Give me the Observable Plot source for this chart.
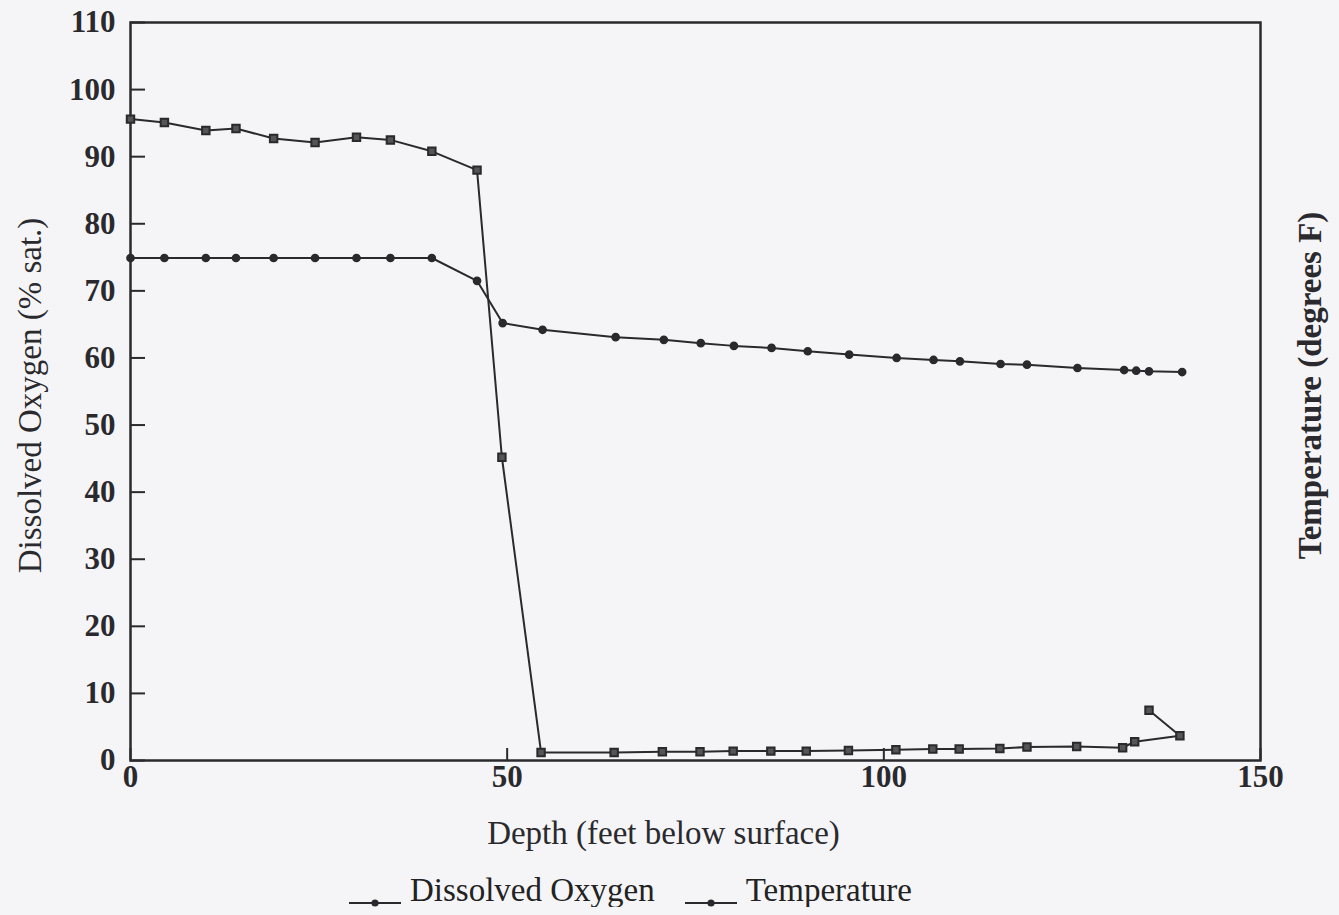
<!DOCTYPE html>
<html>
<head>
<meta charset="utf-8">
<script src="https://cdn.jsdelivr.net/npm/d3@7"></script>
<script src="https://cdn.jsdelivr.net/npm/@observablehq/plot@0.6"></script>
<style>
  html, body { margin: 0; padding: 0; background: #f5f5f7; }
  #chart svg { display: block; background: transparent; }
  #legend { display: flex; justify-content: center; align-items: flex-end; gap: 28px;
    font-family: "Liberation Serif", "DejaVu Serif", serif; font-size: 33px; color: #222;
    margin-top: 14px; padding-right: 80px; line-height: 1; }
  #legend .item { display: flex; align-items: flex-end; gap: 7px; }
  #legend svg { display: block; }
</style>
</head>
<body>
<div id="chart"></div>
<div id="legend"></div>
<script>
// Dissolved oxygen (% saturation) vs depth (feet)
const depthDO = [0, 4.5, 10, 14, 19, 24.5, 30, 34.5, 40, 46, 49.3, 54.5, 64.2, 70.6, 75.6, 80, 85, 89.7, 95.3, 101.6, 106.5, 110, 115.4, 119, 125.6, 131.7, 133.3, 139.3, 135.2];
const oxygen  = [95.6, 95.1, 93.9, 94.2, 92.7, 92.1, 92.9, 92.5, 90.8, 88.0, 45.2, 1.2, 1.2, 1.3, 1.3, 1.4, 1.4, 1.4, 1.5, 1.6, 1.7, 1.7, 1.8, 2.0, 2.1, 1.9, 2.8, 3.7, 7.5];

// Temperature (degrees F) vs depth (feet)
const depthT = [0, 4.5, 10, 14, 19, 24.5, 30, 34.5, 40, 46, 49.4, 54.7, 64.4, 70.8, 75.7, 80.1, 85.1, 89.9, 95.4, 101.7, 106.6, 110.1, 115.5, 119, 125.7, 131.9, 133.5, 135.2, 139.6];
const temperature = [74.9, 74.9, 74.9, 74.9, 74.9, 74.9, 74.9, 74.9, 74.9, 71.5, 65.2, 64.2, 63.1, 62.7, 62.2, 61.8, 61.5, 61.0, 60.5, 60.0, 59.7, 59.5, 59.1, 59.0, 58.5, 58.2, 58.1, 58.0, 57.9];

const xTicks = [0, 50, 100, 150];
const yTicks = [0, 10, 20, 30, 40, 50, 60, 70, 80, 90, 100, 110];

const xLabel = "Depth (feet below surface)";
const yLabel = "Dissolved Oxygen (% sat.)";
const y2Label = "Temperature (degrees F)";
const seriesNames = ["Dissolved Oxygen", "Temperature"];

const doData = depthDO.map((d, i) => ({depth: d, value: oxygen[i]}));
const tData = depthT.map((d, i) => ({depth: d, value: temperature[i]}));

const ink = "#2a2a2e";
const serif = "Liberation Serif, DejaVu Serif, serif";

const W = 1339, H = 860, mT = 22, mB = 100, mL = 130, mR = 79;
const frameW = W - mL - mR, frameH = H - mT - mB;

const chart = Plot.plot({
  width: W,
  height: H,
  marginTop: mT,
  marginBottom: mB,
  marginLeft: mL,
  marginRight: mR,
  style: {fontFamily: serif, color: ink, background: "transparent"},
  x: {domain: [0, 150]},
  y: {domain: [0, 110]},
  marks: [
    Plot.frame({stroke: ink, strokeWidth: 2.5}),
    // inward ticks
    Plot.tickY(yTicks, {y: d => d, insetRight: frameW - 15, stroke: ink, strokeWidth: 2}),
    Plot.tickX(xTicks, {x: d => d, insetTop: frameH - 12, stroke: ink, strokeWidth: 2}),
    // tick labels
    Plot.axisY(yTicks, {tickSize: 0, tickPadding: 15, fontSize: 31, fontWeight: "bold", label: null}),
    Plot.axisX(xTicks, {tickSize: 0, tickPadding: 4, fontSize: 31, fontWeight: "bold", label: null}),
    // axis titles
    Plot.text([xLabel], {text: d => d, frameAnchor: "bottom", lineAnchor: "middle", textAnchor: "middle", dy: 73, dx: -32, fontSize: 33, fill: ink}),
    Plot.text([yLabel], {text: d => d, frameAnchor: "left", textAnchor: "middle", lineAnchor: "middle", rotate: -90, dx: -100, dy: 4, fontSize: 33, fill: ink}),
    Plot.text([y2Label], {text: d => d, frameAnchor: "right", textAnchor: "middle", lineAnchor: "middle", rotate: -90, dx: 50, dy: -6, fontSize: 33, fontWeight: "bold", fill: ink}),
    // series
    Plot.line(doData, {x: "depth", y: "value", stroke: ink, strokeWidth: 2}),
    Plot.dot(doData, {x: "depth", y: "value", symbol: "square", r: 4.2, fill: "#555", stroke: ink, strokeWidth: 2}),
    Plot.line(tData, {x: "depth", y: "value", stroke: ink, strokeWidth: 2}),
    Plot.dot(tData, {x: "depth", y: "value", symbol: "circle", r: 3.6, fill: ink, stroke: ink})
  ]
});
document.getElementById("chart").appendChild(chart);

// legend
const legend = document.getElementById("legend");
seriesNames.forEach(name => {
  const item = document.createElement("div");
  item.className = "item";
  const sw = d3.create("svg").attr("width", 56).attr("height", 22);
  sw.append("line").attr("x1", 2).attr("x2", 54).attr("y1", 18).attr("y2", 18).attr("stroke", ink).attr("stroke-width", 2);
  sw.append("circle").attr("cx", 28).attr("cy", 18).attr("r", 3.6).attr("fill", ink);
  item.appendChild(sw.node());
  const label = document.createElement("span");
  label.textContent = name;
  item.appendChild(label);
  legend.appendChild(item);
});
</script>
</body>
</html>
